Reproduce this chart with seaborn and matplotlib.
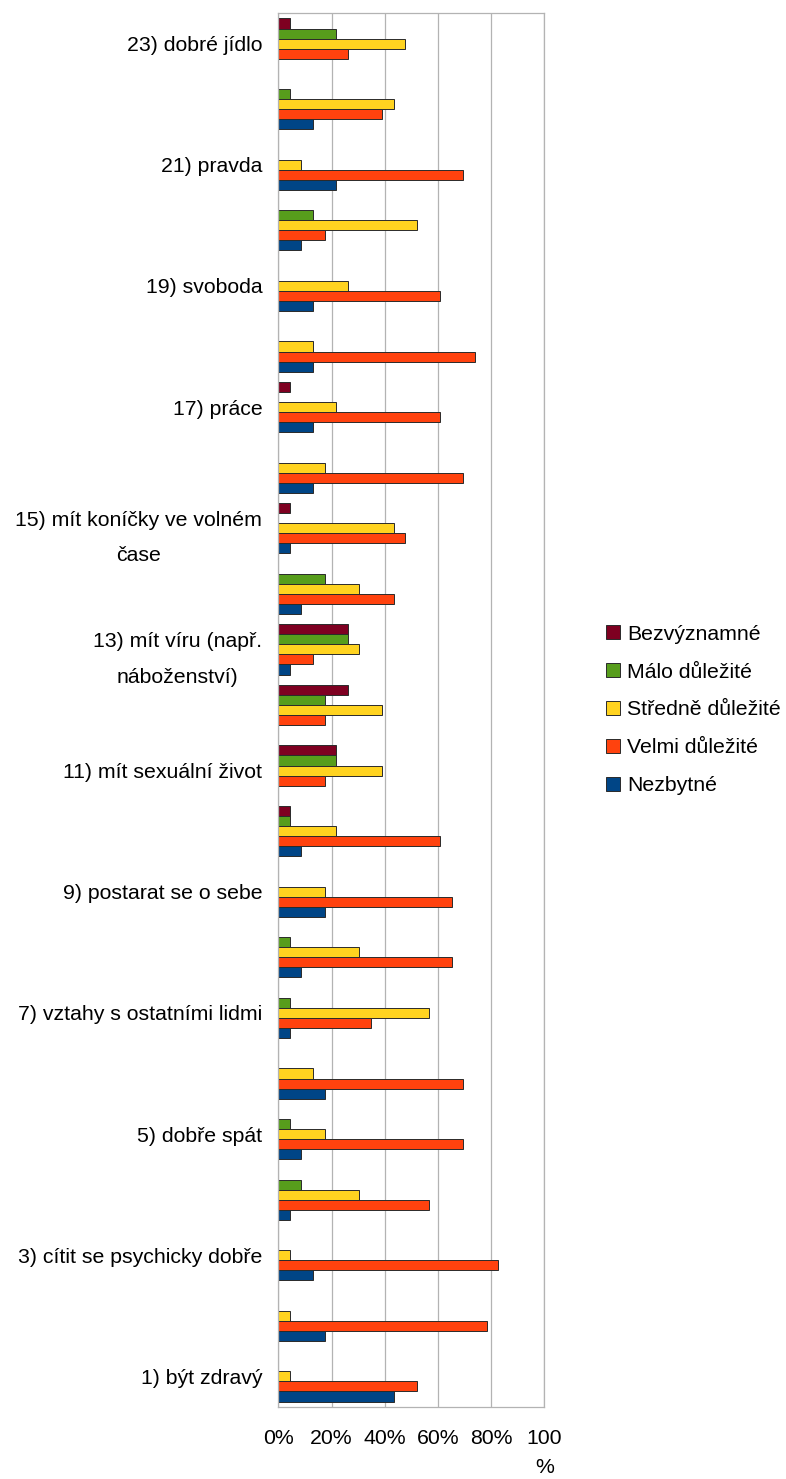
import matplotlib
matplotlib.use("Agg")
import matplotlib.pyplot as plt
from matplotlib.patches import Patch
from matplotlib.ticker import FixedLocator
import pandas as pd
import seaborn as sns

# Survey items (odd-numbered ones carry their text on the axis)
items = [
    "1) být zdravý", "2)", "3) cítit se psychicky dobře", "4)",
    "5) dobře spát", "6)", "7) vztahy s ostatními lidmi", "8)",
    "9) postarat se o sebe", "10)", "11) mít sexuální život", "12)",
    "13) mít víru (např.\nnáboženství)", "14)",
    "15) mít koníčky ve volném\nčase", "16)", "17) práce", "18)",
    "19) svoboda", "20)", "21) pravda", "22)", "23) dobré jídlo",
]

# Share of answers in each importance level (%), items 1..23
nezbytne = [43.5, 17.4, 13.0, 4.3, 8.7, 17.4, 4.3, 8.7, 17.4, 8.7, 0, 0,
            4.3, 8.7, 4.3, 13.0, 13.0, 13.0, 13.0, 8.7, 21.7, 13.0, 0]
velmi = [52.2, 78.3, 82.6, 56.5, 69.6, 69.6, 34.8, 65.2, 65.2, 60.9, 17.4, 17.4,
         13.0, 43.5, 47.8, 69.6, 60.9, 73.9, 60.9, 17.4, 69.6, 39.1, 26.1]
stredne = [4.3, 4.3, 4.3, 30.4, 17.4, 13.0, 56.5, 30.4, 17.4, 21.7, 39.1, 39.1,
           30.4, 30.4, 43.5, 17.4, 21.7, 13.0, 26.1, 52.2, 8.7, 43.5, 47.8]
malo = [0, 0, 0, 8.7, 4.3, 0, 4.3, 4.3, 0, 4.3, 21.7, 17.4,
        26.1, 17.4, 0, 0, 0, 0, 0, 13.0, 0, 4.3, 21.7]
bez = [0, 0, 0, 0, 0, 0, 0, 0, 0, 4.3, 21.7, 26.1,
       26.1, 0, 4.3, 0, 4.3, 0, 0, 0, 0, 0, 4.3]

series_names = ["Bezvýznamné", "Málo důležité", "Středně důležité",
                "Velmi důležité", "Nezbytné"]
series_values = [bez, malo, stredne, velmi, nezbytne]
colors = ["#7e0021", "#579d1c", "#ffd320", "#ff420e", "#004586"]

x_ticks = [0, 20, 40, 60, 80, 100]
x_labels = ["0%", "20%", "40%", "60%", "80%", "100\n%"]

rows = []
for name, vals in zip(series_names, series_values):
    for item, v in zip(items, vals):
        rows.append({"item": item, "series": name, "value": v})
df = pd.DataFrame(rows)

sns.set_style("white")
plt.rcParams["font.family"] = ["Liberation Sans", "DejaVu Sans"]
FS = 15.3
plt.rcParams.update({
    "font.size": FS,
    "text.color": "black",
    "xtick.labelcolor": "black",
    "ytick.labelcolor": "black",
})

grid_col = "#b3b3b3"
edge_col = "#2a2a2a"

fig = plt.figure(figsize=(7.86, 14.79), dpi=100)
ax = fig.add_axes([0.3541, 0.0489, 0.3384, 0.9421])

order = items[::-1]
sns.barplot(data=df, x="value", y="item", hue="series", order=order,
            hue_order=series_names, palette=colors, saturation=1, orient="h",
            width=0.83, edgecolor=edge_col, linewidth=0.7, errorbar=None,
            ax=ax, legend=False)

# empty bars are not drawn at all
for p in ax.patches:
    if p.get_width() == 0:
        p.set_visible(False)

ax.set_xlim(0, 100)
ax.set_ylim(22.5, -0.5)
ax.set_xlabel("")
ax.set_ylabel("")

ax.set_xticks(x_ticks)
ax.set_xticklabels(x_labels)
for t in ax.get_xticklabels():
    t.set_linespacing(1.7)
    t.set_verticalalignment("top")
    t.set_color("black")
ax.tick_params(axis="x", length=5, width=0.8, color=grid_col, pad=11,
               labelsize=FS)

ax.set_yticks(range(len(order)))
ylabels = [lab if lab.split(")")[1].strip() else "" for lab in order]
ax.set_yticklabels(ylabels)
for t in ax.get_yticklabels():
    t.set_multialignment("center")
    t.set_linespacing(2.08)
    t.set_color("black")
ax.tick_params(axis="y", which="major", length=0, pad=11.5, labelsize=FS)
ax.yaxis.set_minor_locator(FixedLocator([i - 0.5 for i in range(len(order) + 1)]))
ax.tick_params(axis="y", which="minor", length=5, width=0.8, color=grid_col)

ax.grid(axis="x", color=grid_col, linewidth=0.9)
ax.grid(axis="y", visible=False)
ax.set_axisbelow(True)
for s in ax.spines.values():
    s.set_color(grid_col)
    s.set_linewidth(0.9)
    s.set_visible(True)

handles = [Patch(facecolor=c, edgecolor=edge_col, linewidth=0.7) for c in colors]
leg = ax.legend(handles, series_names, loc="center left",
                bbox_to_anchor=(1.232, 0.5), frameon=False, fontsize=FS,
                handlelength=0.66, handleheight=0.66, handletextpad=0.33,
                labelspacing=0.89, borderpad=0, borderaxespad=0)
for t in leg.get_texts():
    t.set_color("black")

fig.savefig("out.png", dpi=100, facecolor="white")
